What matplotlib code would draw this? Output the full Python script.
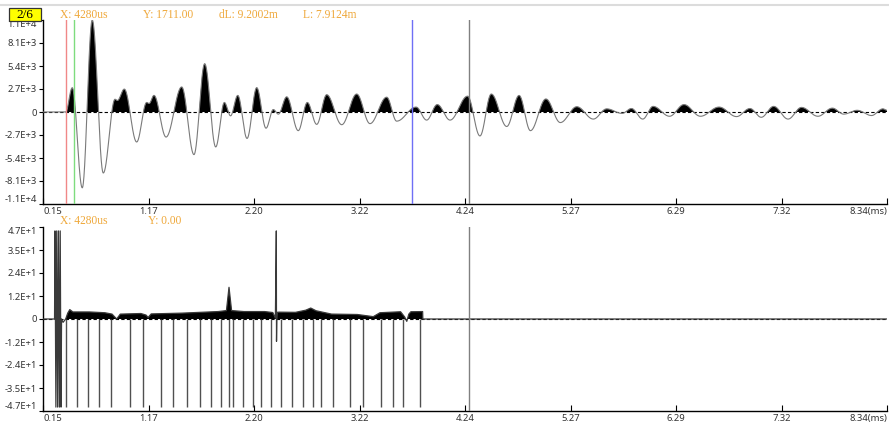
import numpy as np
import matplotlib
matplotlib.use("Agg")
import matplotlib.pyplot as plt
from matplotlib.lines import Line2D
from matplotlib.patches import Rectangle

# ---- waveform (upper panel): extrema of the reflected signal, time in ms ----
wave_t = [0.15, 0.37, 0.434, 0.531, 0.628, 0.735, 0.849, 0.872, 0.939, 1.059,
          1.156, 1.18, 1.227, 1.344, 1.496, 1.615, 1.719, 1.826, 1.91, 1.97,
          2.04, 2.13, 2.224, 2.314, 2.385, 2.434, 2.515, 2.627, 2.715, 2.806,
          2.903, 3.049, 3.194, 3.323, 3.485, 3.582, 3.77, 3.873, 3.976, 4.10,
          4.27, 4.39, 4.50, 4.65, 4.77, 4.88, 5.03, 5.17, 5.33, 5.49,
          5.62, 5.77, 5.86, 5.97, 6.07, 6.23, 6.37, 6.53, 6.71, 6.88,
          7.01, 7.12, 7.24, 7.38, 7.51, 7.67, 7.81, 7.92, 8.05, 8.19,
          8.30, 8.34]
wave_v = [0, 0, 2850, -8900, 10800, -7160, 1500, 1350, 2690, -3520,
          1120, 1000, 1950, -2940, 2940, -5000, 5670, -4100, 1120, -450,
          1950, -3100, 2860, -1900, 290, -250, 1780, -2190, 1120, -1450,
          2030, -1490, 2110, -1365, 1740, -1075, 580, -950, 870, -950,
          1860, -2810, 2110, -1700, 1945, -2190, 1530, -1240, 620, -830,
          370, -165, 410, -830, 660, -500, 870, -500, 580, -540,
          410, -620, 660, -830, 540, -500, 455, -250, 200, -415,
          370, 200]

# ---- processed trace (lower panel) ----
trace_t = [0.15, 0.262, 0.266, 0.275, 0.283, 0.292, 0.300, 0.309, 0.317, 0.325,
           0.33, 0.345, 0.37, 0.39, 0.41, 0.44, 0.60, 0.75, 0.82, 0.865,
           0.90, 1.10, 1.15, 1.17, 1.20, 1.50, 1.85, 1.93, 1.955, 1.98,
           2.10, 2.30, 2.38, 2.405, 2.414, 2.416, 2.419, 2.423, 2.44, 2.60,
           2.70, 2.748, 2.80, 2.95, 3.20, 3.355, 3.42, 3.62, 3.66, 3.68,
           3.70, 3.72, 3.834, 3.836, 8.34]
trace_v = [0, 0, 45, -45, 45, -45, 45, -45, 45, -45,
           0, -1.7, 0, 3.0, 4.8, 3.6, 3.6, 3.2, 2.5, 0,
           2.5, 2.8, 2.0, 0.8, 2.6, 3.0, 3.8, 4.3, 16.2, 4.3,
           3.8, 3.8, 3.3, 0.5, 45, -11.4, 0, 3.4, 3.5, 3.4,
           4.5, 5.6, 4.2, 2.5, 2.3, 1.2, 3.2, 3.7, 1.0, -1.2,
           2.5, 3.7, 3.8, 0, 0]

# marker positions (ms) drawn as downward stems
stem_t = [0.373, 0.477, 0.584, 0.693, 0.810, 0.999, 1.123, 1.292, 1.414, 1.552,
          1.674, 1.780, 1.882, 1.955, 1.989, 2.091, 2.188, 2.270, 2.363, 2.460,
          2.566, 2.673, 2.770, 2.848, 2.964, 3.129, 3.252, 3.430, 3.542, 3.646,
          3.813]
stem_depth = -45

# cursors (ms)
cursor_red = 0.370
cursor_green = 0.448
cursor_blue = 3.731
cursor_x = 4.28

x_ticks = [0.15, 1.17375, 2.1975, 3.22125, 4.245, 5.26875, 6.2925, 7.31625, 8.34]
x_labels = ["0.15", "1.17", "2.20", "3.22", "4.24", "5.27", "6.29", "7.32", "8.34(ms)"]
top_ticks = [-10800, -8100, -5400, -2700, 0, 2700, 5400, 8100, 10800]
top_labels = ["-1.1E+4", "-8.1E+3", "-5.4E+3", "-2.7E+3", "0", "2.7E+3", "5.4E+3", "8.1E+3", "1.1E+4"]
bot_ticks = [-47, -35.25, -23.5, -11.75, 0, 11.75, 23.5, 35.25, 47]
bot_labels = ["-4.7E+1", "-3.5E+1", "-2.4E+1", "-1.2E+1", "0", "1.2E+1", "2.4E+1", "3.5E+1", "4.7E+1"]

header_top = ["X: 4280us", "Y: 1711.00", "dL: 9.2002m", "L: 7.9124m"]
header_bot = ["X: 4280us", "Y: 0.00"]
page_label = "2/6"

W, H = 889, 422
fig = plt.figure(figsize=(W / 100, H / 100), dpi=100)
fig.patch.set_facecolor("white")

TICK_FONT = dict(family="Noto Sans", size=6.8, color="#333333")
HEAD_FONT = dict(family="Liberation Serif", size=8.3, color="#EFA83A")


def px_axes(x0, y0, x1, y1):
    return fig.add_axes([x0 / W, 1 - y1 / H, (x1 - x0) / W, (y1 - y0) / H])


def smooth_curve(tk, vk, n=6000):
    tk = np.asarray(tk, float)
    vk = np.asarray(vk, float)
    t = np.linspace(tk[0], tk[-1], n)
    idx = np.clip(np.searchsorted(tk, t, side="right") - 1, 0, len(tk) - 2)
    f = (t - tk[idx]) / (tk[idx + 1] - tk[idx])
    w = (1 - np.cos(np.pi * f)) / 2
    return t, vk[idx] + (vk[idx + 1] - vk[idx]) * w


def style_axes(ax, yticks, ylabels, ylim):
    ax.set_xlim(x_ticks[0], x_ticks[-1])
    ax.set_ylim(-ylim, ylim)
    for s in ("top", "right"):
        ax.spines[s].set_visible(False)
    for s in ("left", "bottom"):
        ax.spines[s].set_linewidth(1.0)
        ax.spines[s].set_color("black")
    ax.set_xticks(x_ticks)
    ax.set_xticklabels(x_labels, **TICK_FONT)
    ax.set_yticks(yticks)
    ax.set_yticklabels(ylabels, **TICK_FONT)
    ax.tick_params(axis="x", direction="in", length=4, width=0.8, pad=2)
    ax.tick_params(axis="y", direction="out", length=3, width=0.8, pad=1.5)
    xl = ax.get_xticklabels()
    xl[0].set_horizontalalignment("left")
    xl[-1].set_horizontalalignment("right")
    yl = ax.get_yticklabels()
    yl[0].set_verticalalignment("bottom")
    yl[-1].set_verticalalignment("top")
    ax.axhline(0, color="black", lw=0.8, ls=(0, (3, 2)), zorder=1)
    ax.set_facecolor("white")


# ---------- upper panel ----------
ax1 = px_axes(43, 20, 887, 204)
style_axes(ax1, top_ticks, top_labels, 10800)
t1, y1 = smooth_curve(wave_t, wave_v)
ax1.fill_between(t1, 0, y1, where=y1 > 0, interpolate=True, color="black", lw=0, zorder=2)
ax1.plot(t1, y1, color="#7a7a7a", lw=0.8, zorder=3)
ax1.axvline(cursor_red, color="#F08888", lw=1.0, zorder=4)
ax1.axvline(cursor_green, color="#7EDC7E", lw=1.0, zorder=4)
ax1.axvline(cursor_blue, color="#6F6FF5", lw=1.0, zorder=4)
ax1.axvline(cursor_x, color="#808080", lw=1.0, zorder=4)

# ---------- lower panel ----------
ax2 = px_axes(43, 227, 887, 411)
style_axes(ax2, bot_ticks, bot_labels, 47)
t2 = np.asarray(trace_t, float)
y2 = np.asarray(trace_v, float)
ax2.fill_between(t2, 0, y2, where=y2 > 0, interpolate=True, color="black", lw=0, zorder=2)
ax2.plot(t2, y2, color="#3a3a3a", lw=0.9, zorder=3)
ax2.vlines(stem_t, stem_depth, 0, color="#505050", lw=1.0, zorder=2)
ax2.axvline(cursor_x, color="#808080", lw=1.0, zorder=4)

# ---------- header texts ----------
fig.add_artist(Line2D([0, 1], [1 - 5 / H, 1 - 5 / H], color="#dcdcdc", lw=1.5))
fig.add_artist(Rectangle((8.5 / W, 1 - 21 / H), 32 / W, 13 / H,
                         transform=fig.transFigure, fc="#FFFF00", ec="#333333", lw=0.9))
fig.text(24.5 / W, 1 - 14.5 / H, page_label, ha="center", va="center",
         family="Liberation Serif", size=9.5, color="black")
for txt, x in zip(header_top, [60, 143, 219, 303]):
    fig.text(x / W, 1 - 14.5 / H, txt, ha="left", va="center", **HEAD_FONT)
for txt, x in zip(header_bot, [60, 148]):
    fig.text(x / W, 1 - 221.5 / H, txt, ha="left", va="center", **HEAD_FONT)

fig.savefig("out.png", dpi=100, facecolor="white")
